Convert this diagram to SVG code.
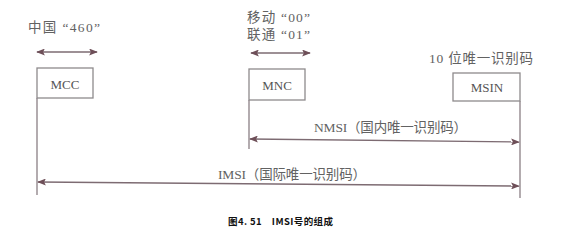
<svg xmlns="http://www.w3.org/2000/svg" width="564" height="240" viewBox="0 0 564 240">
  <defs>
    <marker id="ah" viewBox="0 0 10 8" refX="9" refY="4" markerWidth="9" markerHeight="7" markerUnits="userSpaceOnUse" orient="auto-start-reverse">
      <path d="M0,0 L10,4 L0,8 L2,4 Z" fill="#6e4f58"/>
    </marker>
  </defs>
  <style>
    .lbl { font-family: "Liberation Serif", "Noto Sans CJK SC", serif; font-size: 13.5px; fill: #626262; }
    .box { fill: #ffffff; stroke: #8e8a8c; stroke-width: 1.3; }
    .bt { font-family: "Liberation Serif", serif; font-size: 13px; fill: #555555; text-anchor: middle; }
    .ln { stroke: #8a7f84; stroke-width: 1.3; fill: none; }
    .arr { stroke: #7d6b72; stroke-width: 1.4; fill: none; marker-start: url(#ah); marker-end: url(#ah); }
    .cap { font-family: "Noto Sans CJK SC", "DejaVu Sans", sans-serif; font-size: 9.5px; font-weight: bold; fill: #111111; }
  </style>
  <rect width="564" height="240" fill="#ffffff"/>

  <g id="connectors">
    <line class="ln" x1="37" y1="98" x2="37" y2="195"/>
    <line class="ln" x1="249" y1="100" x2="249" y2="149"/>
    <line class="ln" x1="520" y1="101" x2="520" y2="198"/>
    <line class="arr" x1="37" y1="52" x2="97" y2="52"/>
    <line class="arr" x1="251" y1="53" x2="310" y2="53"/>
    <line class="arr" x1="250" y1="139" x2="519" y2="142"/>
    <line class="arr" x1="38" y1="182" x2="519" y2="186"/>
  </g>

  <g id="mcc">
    <text class="lbl" x="28" y="32" textLength="72">中国 “460”</text>
    <rect class="box" x="37" y="68" width="56" height="30"/>
    <text class="bt" x="65" y="89">MCC</text>
  </g>

  <g id="mnc">
    <text class="lbl" x="247" y="22" textLength="63">移动 “00”</text>
    <text class="lbl" x="247" y="39" textLength="63">联通 “01”</text>
    <rect class="box" x="249" y="69" width="56" height="31"/>
    <text class="bt" x="277" y="90">MNC</text>
  </g>

  <g id="msin">
    <text class="lbl" x="429" y="63" textLength="104">10 位唯一识别码</text>
    <rect class="box" x="453" y="73" width="67" height="28"/>
    <text class="bt" x="487" y="92">MSIN</text>
  </g>

  <g id="nmsi">
    <text class="lbl" x="314" y="132" textLength="153">NMSI（国内唯一识别码）</text>
  </g>

  <g id="imsi">
    <text class="lbl" x="218" y="179" textLength="148">IMSI（国际唯一识别码）</text>
  </g>

  <text class="cap" x="228" y="225" textLength="105">图4. 51　IMSI号的组成</text>
</svg>
